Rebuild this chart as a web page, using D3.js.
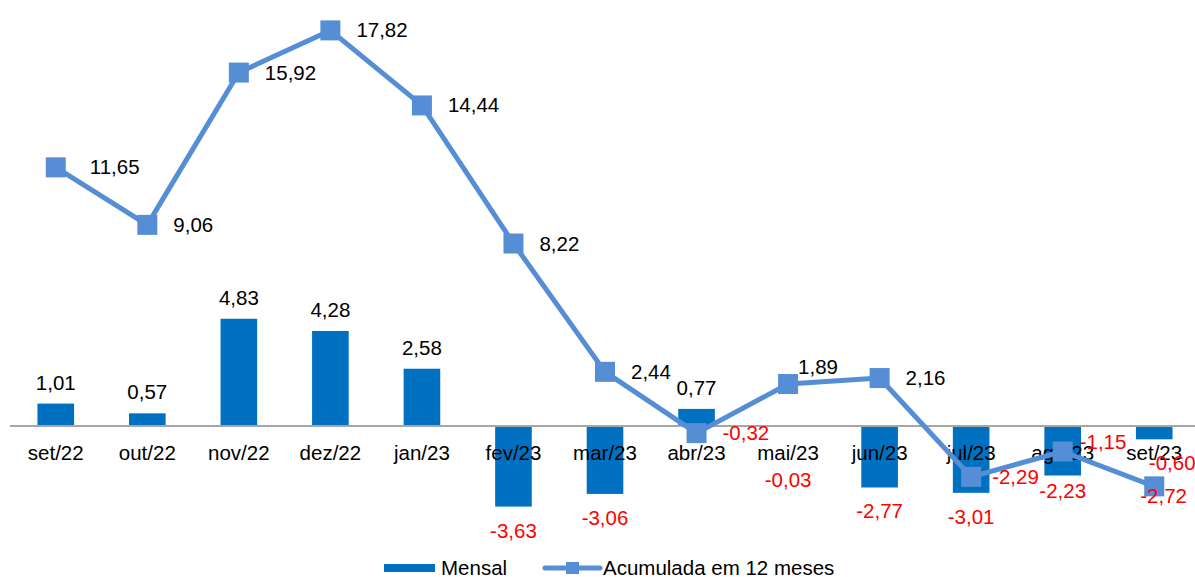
<html><head>
<meta charset="utf-8">
<title>Mensal x Acumulada</title>
<script src="https://d3js.org/d3.v7.min.js"></script>
<style>
  body { margin: 0; background: white; }
  text { font-family: 'Liberation Sans', Arial, sans-serif; }
  .lbl { font-size: 20.5px; }
  .cat { font-size: 20.5px; fill: #000; }
  .legend { font-size: 20.5px; fill: #000; }
</style>
</head>
<body>
<svg id="chart" width="1195" height="577"></svg>
<script>

// data
const months = ["set/22","out/22","nov/22","dez/22","jan/23","fev/23","mar/23","abr/23","mai/23","jun/23","jul/23","ago/23","set/23"];
const mensal = [1.01, 0.57, 4.83, 4.28, 2.58, -3.63, -3.06, 0.77, -0.03, -2.77, -3.01, -2.23, -0.60];
const acumulada = [11.65, 9.06, 15.92, 17.82, 14.44, 8.22, 2.44, -0.32, 1.89, 2.16, -2.29, -1.15, -2.72];

const svg = d3.select("#chart");
const barColor = "#0070C0";
const lineColor = "#558ED5";
const fmt = v => d3.format(".2f")(v).replace(".", ",").replace("\u2212", "-");

const x = d3.scaleBand().domain(months).range([10, 1200]).paddingInner(0.6).paddingOuter(0.3);
const y = d3.scaleLinear().domain([-4, 18]).range([426 + 4 * 22.2, 426 - 18 * 22.2]);
const cx = m => x(m) + x.bandwidth() / 2;

// bars
svg.selectAll("rect.bar").data(months)
  .join("rect")
  .attr("class", "bar")
  .attr("x", d => x(d))
  .attr("width", x.bandwidth())
  .attr("y", (d, i) => Math.min(y(mensal[i]), y(0)))
  .attr("height", (d, i) => Math.abs(y(mensal[i]) - y(0)))
  .attr("fill", barColor);

// zero axis
svg.append("line")
  .attr("x1", 10).attr("x2", 1195)
  .attr("y1", y(0)).attr("y2", y(0))
  .attr("stroke", "#A6A6A6").attr("stroke-width", 2);

// category labels
svg.selectAll("text.cat").data(months)
  .join("text")
  .attr("class", "cat")
  .attr("x", d => cx(d))
  .attr("y", y(0) + 33.5)
  .attr("text-anchor", "middle")
  .text(d => d);

// line
const line = d3.line().x((d, i) => cx(months[i])).y(d => y(d));
svg.append("path")
  .attr("d", line(acumulada))
  .attr("fill", "none")
  .attr("stroke", lineColor)
  .attr("stroke-width", 5)
  .attr("stroke-linejoin", "round");

svg.selectAll("rect.mk").data(acumulada)
  .join("rect")
  .attr("class", "mk")
  .attr("x", (d, i) => cx(months[i]) - 10)
  .attr("y", d => y(d) - 10)
  .attr("width", 20).attr("height", 20)
  .attr("fill", lineColor);

// mensal labels: above positive bars, below negative ones
const barLabelDy = { "mai/23": 29, "ago/23": -9 };
svg.selectAll("text.bl").data(mensal)
  .join("text")
  .attr("class", "lbl bl")
  .attr("x", (d, i) => cx(months[i]) + (months[i] === "set/23" ? 18 : 0))
  .attr("y", (d, i) => d >= 0 ? y(d) - 14 : y(d) + 31 + (barLabelDy[months[i]] || 0))
  .attr("text-anchor", "middle")
  .attr("fill", d => d >= 0 ? "#000" : "#FF0000")
  .text(d => fmt(d));

// acumulada labels: to the right of the markers
const lineLabelDy = { "ago/23": -10, "set/23": 10, "mai/23": -17 };
const lineLabelDx = { "set/22": 8, "set/23": -40, "jul/23": -5, "ago/23": -9, "mai/23": -16 };
svg.selectAll("text.ll").data(acumulada)
  .join("text")
  .attr("class", "lbl ll")
  .attr("x", (d, i) => cx(months[i]) + 26 + (lineLabelDx[months[i]] || 0))
  .attr("y", (d, i) => y(d) + 7 + (lineLabelDy[months[i]] || 0))
  .attr("fill", d => d >= 0 ? "#000" : "#FF0000")
  .text(d => fmt(d));

// legend
const lg = svg.append("g").attr("transform", "translate(384,568)");
lg.append("rect").attr("x", 0).attr("y", -4).attr("width", 51).attr("height", 8).attr("fill", barColor);
lg.append("text").attr("class", "legend").attr("x", 57).attr("y", 7).text("Mensal");
lg.append("line").attr("x1", 161).attr("x2", 216).attr("y1", 0).attr("y2", 0)
  .attr("stroke", lineColor).attr("stroke-width", 5).attr("stroke-linecap", "round");
lg.append("rect").attr("x", 182).attr("y", -6).attr("width", 13).attr("height", 12).attr("fill", lineColor);
lg.append("text").attr("class", "legend").attr("x", 219).attr("y", 7).text("Acumulada em 12 meses");

</script>
</body>
</html>
